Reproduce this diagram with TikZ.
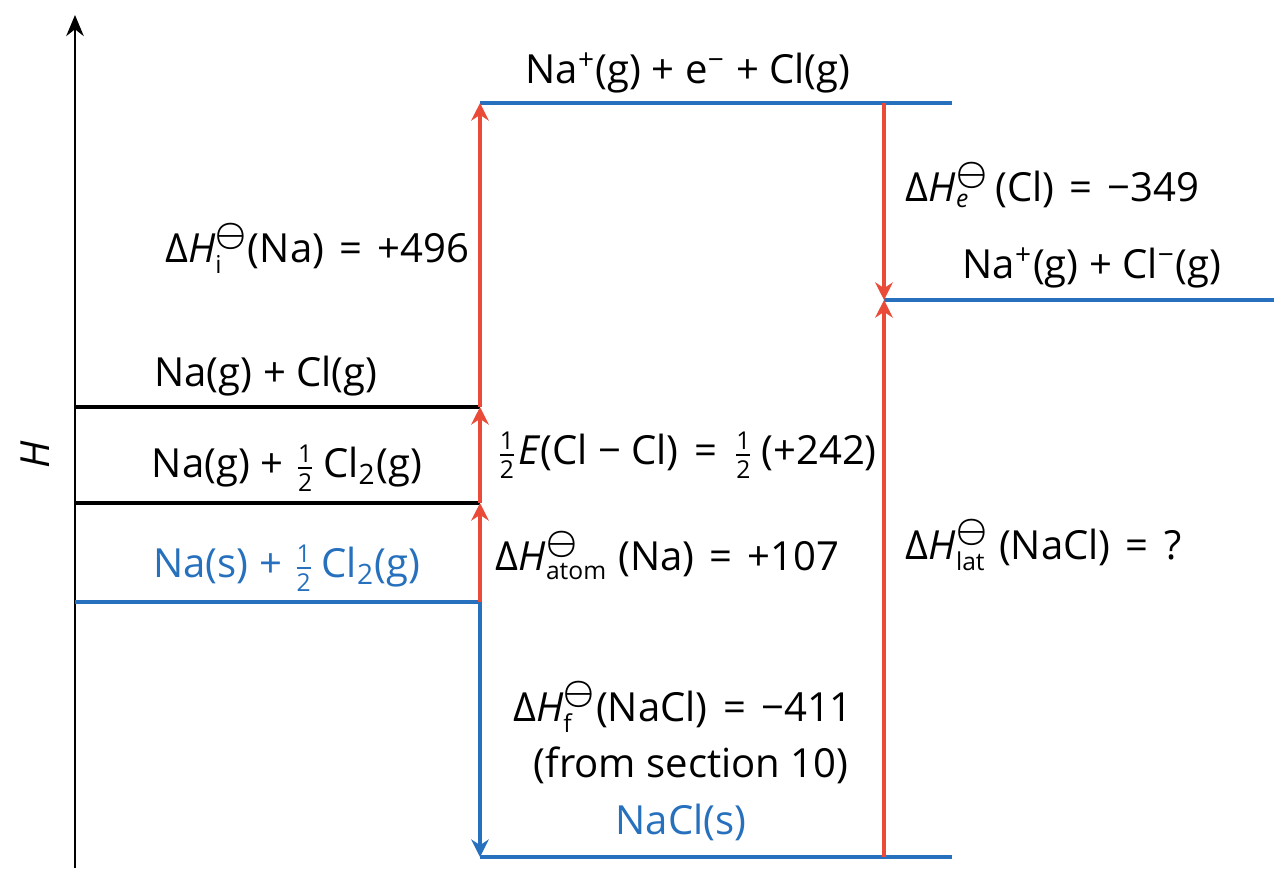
\documentclass[tikz,border=0pt]{standalone}
\usepackage{fontspec}
\usepackage{bm}
\setmainfont{Open Sans}
\usetikzlibrary{arrows.meta}
\definecolor{levelblue}{RGB}{38,112,189}
\definecolor{stepred}{RGB}{234,74,56}
\newcommand{\dH}[1]{Δ\textit{H}$^{\scalebox{1.15}{$\scriptstyle\bm{\ominus}$}}_{\mbox{\scriptsize #1}}$}
\newcommand{\half}{$\frac{\mbox{\scriptsize 1}}{\mbox{\scriptsize 2}}$}
\newcommand{\eq}{\hspace{0.38em}=\hspace{0.38em}}
\tikzset{
  level/.style={line width=0.9pt},
  jump/.style={line width=0.9pt, stepred, -{Stealth[length=5pt,width=5pt]}},
}
\begin{document}
\begin{tikzpicture}[x=0.01cm,y=-0.01cm,font=\fontsize{11.4}{13}\selectfont,inner sep=0pt]
    \useasboundingbox (0,0) rectangle (1274,869);
    \coordinate (axisfoot) at (75,868);
    \coordinate (axistop) at (75,15);
    \coordinate (elemL) at (75,602);
    \coordinate (elemR) at (480,602);
    \coordinate (atomL) at (75,503);
    \coordinate (atomR) at (480,503);
    \coordinate (gasL) at (75,407);
    \coordinate (gasR) at (480,407);
    \coordinate (topL) at (480,103);
    \coordinate (topR) at (952,103);
    \coordinate (topM) at (884,103);
    \coordinate (ionL) at (884,300);
    \coordinate (ionR) at (1274,300);
    \coordinate (saltL) at (480,857);
    \coordinate (saltR) at (952,857);
    \coordinate (saltM) at (884,857);

    \draw[line width=0.6pt, -{Stealth[length=6pt,width=5pt]}] (axisfoot) -- (axistop);
    \node[rotate=90] (hlabel) at (35,455) {\textit{H}};

    \draw[level, levelblue] (elemL) -- (elemR);
    \draw[level] (atomL) -- (atomR);
    \draw[level] (gasL) -- (gasR);
    \draw[level, levelblue] (topL) -- (topR);
    \draw[level, levelblue] (ionL) -- (ionR);
    \draw[level, levelblue] (saltL) -- (saltR);

    \draw[jump] (elemR) -- (atomR);
    \draw[jump] (atomR) -- (gasR);
    \draw[jump] (gasR) -- (topL);
    \draw[jump] (topM) -- (ionL);
    \draw[jump] (saltM) -- (ionL);
    \draw[jump, levelblue] (elemR) -- (saltL);

    \node (top) at (688,73) {Na\textsuperscript{+}(g) + e\textsuperscript{−} + Cl(g)};
    \node (ion) at (1092,268) {Na\textsuperscript{+}(g) + Cl\textsuperscript{−}(g)};
    \node (gas) at (266,376) {Na(g) + Cl(g)};
    \node (atomna) at (287,468) {Na(g) + \half\,Cl\textsubscript{2}(g)};
    \node[levelblue] (elem) at (287,568) {Na(s) + \half\,Cl\textsubscript{2}(g)};
    \node[levelblue] (salt) at (681,822) {NaCl(s)};

    \node[anchor=east] (ie) at (470,248) {\dH{i}(Na)\eq+496};
    \node[anchor=west] (ea) at (905,185) {\dH{\textit{e}}\,(Cl)\eq−349};
    \node[anchor=west] (bond) at (495,455) {\half\textit{E}(Cl − Cl)\eq\half\,(+242)};
    \node[anchor=west] (atom) at (495,555) {\dH{atom} (Na)\eq+107};
    \node[anchor=west] (lat) at (905,545) {\dH{lat} (NaCl)\eq?};
    \node (form) at (683,707) {\dH{f}(NaCl)\eq−411};
    \node (src) at (691,765) {(from section 10)};
\end{tikzpicture}
\end{document}
